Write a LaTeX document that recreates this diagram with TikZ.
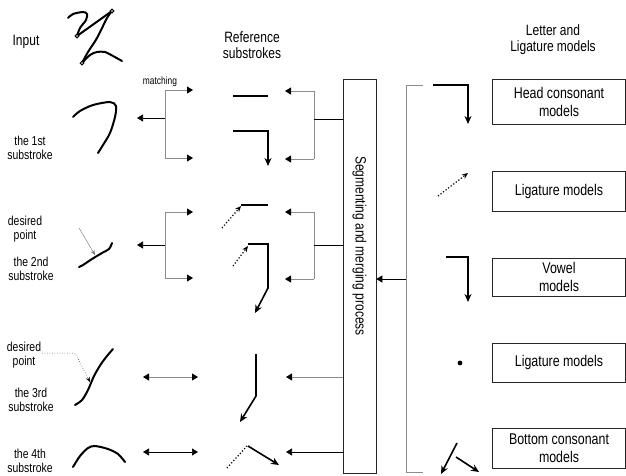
\documentclass[tikz,border=0pt]{standalone}
\usepackage{fontspec}
\setmainfont{Liberation Sans}[FakeStretch=0.8]
\usetikzlibrary{arrows.meta,positioning}

\begin{document}
\begin{tikzpicture}[x=1pt,y=-1pt,
  lbl/.style={font=\fontsize{13}{13.5}\selectfont,align=center,inner sep=0pt},
  head/.style={font=\fontsize{15}{16}\selectfont,align=center,inner sep=0pt},
  model/.style={draw=black!85,line width=.6pt,minimum width=133pt,inner sep=0pt,
    font=\fontsize{15.5}{18}\selectfont,align=center},
  pen/.style={line width=2pt,line cap=round,line join=round},
  ref/.style={line width=1.6pt},
  tip/.style={-{Stealth[length=8pt,width=7pt]}},
  dots/.style={dotted,line width=1.2pt,-{Stealth[length=6pt,width=5pt]}},
  brk/.style={black!45,line width=.8pt},
  hd/.style={-{Triangle[length=6pt,width=7pt,color=black]}},
  hdd/.style={{Triangle[length=6pt,width=7pt,color=black]}-{Triangle[length=6pt,width=7pt,color=black]}},
]
\useasboundingbox (0,0) rectangle (626,475);

% titles
\node[head] (input) at (26,42) {Input};
\node[head] (reftitle) at (252,45) {Reference\\substrokes};
\node[head] (modtitle) at (553,40) {Letter and\\Ligature models};
\node[font=\fontsize{10.5}{12}\selectfont,inner sep=0pt] (match) at (160,82) {matching};

% input character
\draw[pen] plot[smooth] coordinates {(68,18) (73,14) (83,12) (87,14) (86,20) (80,28) (77,36)};
\draw[pen] (77,36) -- (112,11);
\draw[pen] plot[smooth] coordinates {(112,11) (107,18) (97,38) (88,52) (82,63)};
\draw[pen] plot[smooth] coordinates {(82,63) (90,55) (97,52) (105,52) (113,56) (122,61)};
\foreach \p in {(77,36),(112,11),(82,63)}
  \draw[line width=1pt,fill=white] \p circle (1.8);

% input substrokes
\node[lbl] (s1) at (30,148) {the 1st\\substroke};
\draw[pen] plot[smooth] coordinates {(73,117) (80,111) (93,105) (110,102) (116,106) (115,117) (110,133) (103,145) (98,153)};

\node[lbl] (d2) at (25,229) {desired\\point};
\node[lbl] (s2) at (31,269) {the 2nd\\substroke};
\draw[pen] plot[smooth] coordinates {(79,267) (83,265) (92,259) (102,253) (109,249) (112,243)};
\draw[black!55,line width=.4pt,-{Stealth[length=5pt,width=4pt]}] (79,228) -- (95,255);

\node[lbl] (d3) at (24,355) {desired\\point};
\node[lbl] (s3) at (31,400) {the 3rd\\substroke};
\draw[pen] plot[smooth] coordinates {(75,405) (82,400) (88,390) (94,376) (101,364) (107,356) (113,349)};
\draw[dotted,line width=.5pt,-{Stealth[length=5pt,width=4pt]}] (42,353) -- (75,353) -- (90,382);

\node[lbl] (s4) at (30,461) {the 4th\\substroke};
\draw[pen] plot[smooth] coordinates {(73,467) (80,456) (88,448) (95,446) (108,449) (118,454) (125,462)};

% left brackets
\foreach \a/\m/\b in {90/118/158,212/245/278}{
  \draw[brk,hd] (165,\a) -- (193,\a);
  \draw[brk,hd] (165,\b) -- (193,\b);
  \draw[brk] (165,\a) -- (165,\b);
  \draw[hd,line width=.6pt] (165,\m) -- (137,\m);
}
\draw[brk,hdd] (143,377) -- (198,377);
\draw[line width=.6pt,hdd] (143,452) -- (198,452);

% reference substrokes
\draw[ref] (233,96) -- (268,96);
\draw[ref,tip] (233,131) -- (268,131) -- (268,166);
\draw[dots] (222,228) -- (241,206);
\draw[ref] (241,205) -- (268,205);
\draw[dots] (233,266) -- (248,246);
\draw[ref,tip] (248,244) -- (268,244) -- (268,288) -- (255,313);
\draw[ref,tip] (256,354) -- (256,396) -- (240,422);
\draw[dotted,line width=1.2pt] (227,468) -- (247,446);
\draw[ref,tip] (248,446) -- (279,465);

% segmenting box
\node[draw=black!85,line width=.6pt,minimum width=33pt,minimum height=394pt,inner sep=0pt] (seg) at (359.5,276) {};
\node[rotate=-90,font=\fontsize{15}{16}\selectfont,inner sep=0pt] (segtxt) at (359.5,246) {Segmenting and merging process};

% right brackets
\foreach \a/\m/\b in {91/119/159,212/245/279}{
  \draw[brk,hd] (314,\a) -- (285,\a);
  \draw[brk,hd] (314,\b) -- (285,\b);
  \draw[brk] (314,\a) -- (314,\b);
  \draw[line width=.6pt] (seg.west |- 0,\m) -- (314,\m);
}
\draw[brk,hd] (seg.west |- 0,377) -- (286,377);
\draw[line width=.6pt,hd] (seg.west |- 0,452) -- (286,452);

% models
\foreach \n/\y/\h/\t in {1/101.5/45/{Head consonant\\models},2/191/40/{Ligature models},
  3/277/38/{Vowel\\models},4/362.5/39/{Ligature models},5/448/40/{Bottom consonant\\models}}{
  \node[model,minimum height=\h pt] (m\n) at (559,\y) {\t};
}

\draw[brk] (423,85) -- (406,85) -- (406,472) -- (423,472);
\draw[line width=.6pt,hd] (406,279) -- (seg.east |- 0,279);

\draw[ref,tip] (433,85) -- (468,85) -- (468,124);
\draw[dots] (438,196) -- (468,173);
\draw[ref,tip] (446,257) -- (468,257) -- (468,302);
\fill (460,363) circle (2.4);
\draw[ref,tip] (457,443) -- (441,474);
\draw[ref,tip] (456,457) -- (479,472);
\end{tikzpicture}
\end{document}
